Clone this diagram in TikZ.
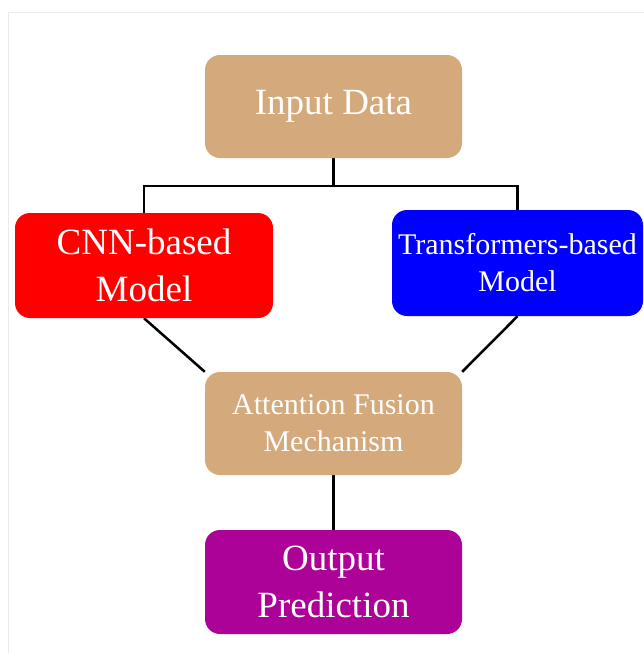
\documentclass[tikz,border=0pt]{standalone}
\usepackage{fontspec}
\setmainfont{Liberation Serif}
\usetikzlibrary{backgrounds}
\definecolor{tanbox}{RGB}{212,169,124}
\definecolor{purplebox}{RGB}{173,2,152}
\definecolor{framegray}{RGB}{232,236,241}
\begin{document}
\begin{tikzpicture}[x=1pt, y=-1pt,
  main node/.style={rectangle, rounded corners=15pt, text=white, align=center, inner sep=0pt, minimum width=257pt, minimum height=103pt},
  big font/.style={font=\fontsize{37}{47}\selectfont},
  small font/.style={font=\fontsize{30}{37}\selectfont},
  link/.style={draw=black, line width=2.5pt}]
\useasboundingbox (0,0) rectangle (644,653);
\draw[framegray, line width=1pt] (8,653) -- (8,12) -- (644,12);
\begin{scope}
\node[main node, big font, fill=tanbox] (input) at (333.5,106.5) {Input Data};
\node[main node, big font, fill=red, minimum width=258pt, minimum height=105pt] (cnn) at (144,265.5) {CNN-based\\Model};
\node[main node, small font, fill=blue, minimum width=251pt, minimum height=106pt] (trans) at (517.5,263) {Transformers-based\\Model};
\node[main node, small font, fill=tanbox] (fusion) at (333.5,423.5) {Attention Fusion\\Mechanism};
\node[main node, big font, fill=purplebox, minimum height=104pt] (output) at (333.5,582) {Output\\Prediction};
\coordinate (fork) at (333.5,186);
%\node[main node] (x) at (,) {};
\end{scope}
\begin{scope}[on background layer, link]
\draw[link] (input.south) -- (fork);
\draw[link] (fork) -| (cnn.north);
\draw[link] (fork) -| (trans.north);
\draw[link] (cnn.south) edge (fusion.north west);
\draw[link] (trans.south) edge (fusion.north east);
\draw[link] (fusion) edge (output);
\end{scope}
\end{tikzpicture}
\end{document}
